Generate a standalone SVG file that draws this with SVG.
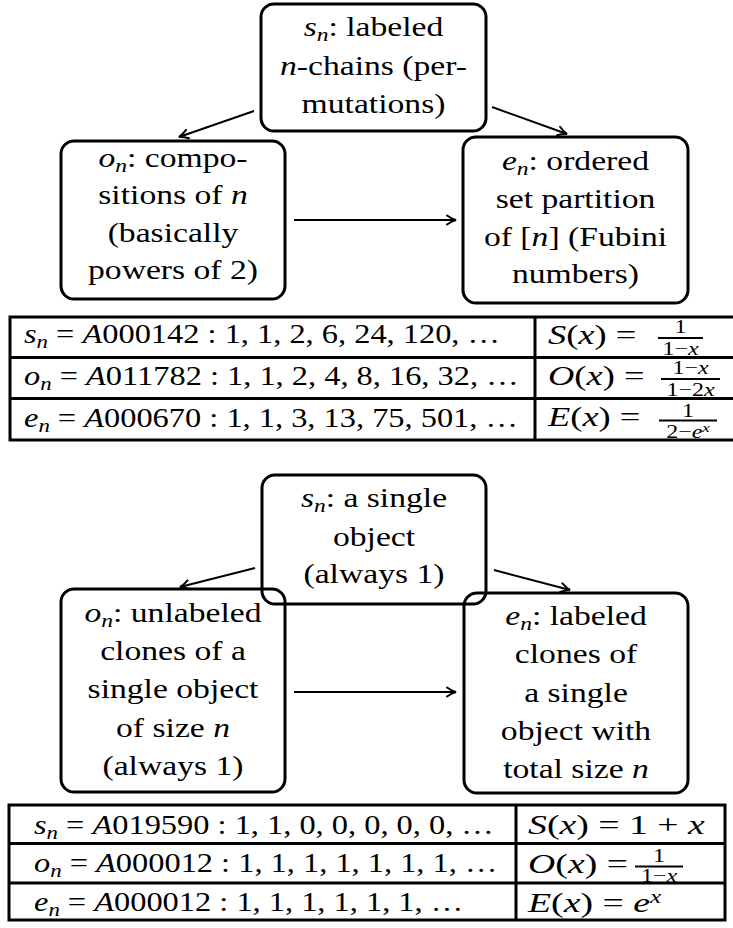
<svg xmlns="http://www.w3.org/2000/svg" width="733" height="928" viewBox="0 0 733 928">
<defs>
<style>
.t{font-family:"Liberation Serif","Times New Roman",serif;font-size:26.5px;fill:#000;text-anchor:middle}
.tl{font-family:"Liberation Serif","Times New Roman",serif;font-size:27px;fill:#000}
.fr{font-family:"Liberation Serif","Times New Roman",serif;font-size:18.5px;fill:#000;text-anchor:middle}
.m{font-style:italic}
.sb{font-size:18.5px;font-style:italic}
.sb2{font-size:19px;font-style:italic}
.box{fill:none;stroke:#000;stroke-width:3}
.grid{fill:none;stroke:#000;stroke-width:3}
.bar{stroke:#000;stroke-width:1.8}
.conn line{stroke:#000;stroke-width:2}
</style>
<marker id="ah" viewBox="-11 -6 13 12" refX="0" refY="0" markerWidth="13" markerHeight="12" markerUnits="userSpaceOnUse" orient="auto">
<path d="M-9,-4.5 Q-4,-1 0,0 Q-4,1 -9,4.5" fill="none" stroke="#000" stroke-width="2" stroke-linecap="round"/>
</marker>
</defs>
<rect width="733" height="928" fill="#fff"/>

<!-- top diagram -->
<g id="s1">
<rect class="box" x="261" y="4" width="225" height="127" rx="13"/>
<g transform="translate(373.5 0) scale(1.27 1)">
<text class="t" y="36"><tspan class="m">s</tspan><tspan class="sb" dy="5">n</tspan><tspan dy="-5">:  labeled</tspan></text>
<text class="t" y="75"><tspan class="m">n</tspan>-chains (per-</text>
<text class="t" y="113">mutations)</text>
</g>
</g>
<g id="o1">
<rect class="box" x="61" y="141" width="224" height="158" rx="13"/>
<g transform="translate(173 0) scale(1.27 1)">
<text class="t" y="167"><tspan class="m">o</tspan><tspan class="sb" dy="5">n</tspan><tspan dy="-5">: compo-</tspan></text>
<text class="t" y="204">sitions of <tspan class="m">n</tspan></text>
<text class="t" y="242">(basically</text>
<text class="t" y="279">powers of 2)</text>
</g>
</g>
<g id="e1">
<rect class="box" x="463" y="137" width="225" height="166" rx="13"/>
<g transform="translate(575.5 0) scale(1.27 1)">
<text class="t" y="170"><tspan class="m">e</tspan><tspan class="sb" dy="5">n</tspan><tspan dy="-5">: ordered</tspan></text>
<text class="t" y="208">set partition</text>
<text class="t" y="246">of [<tspan class="m">n</tspan>] (Fubini</text>
<text class="t" y="283">numbers)</text>
</g>
</g>

<!-- bottom diagram -->
<g id="s2">
<rect class="box" x="262" y="475" width="224" height="129" rx="13"/>
<g transform="translate(374 0) scale(1.27 1)">
<text class="t" y="507"><tspan class="m">s</tspan><tspan class="sb" dy="5">n</tspan><tspan dy="-5">:  a single</tspan></text>
<text class="t" y="546">object</text>
<text class="t" y="583">(always 1)</text>
</g>
</g>
<g id="o2">
<rect class="box" x="61" y="589" width="224" height="203" rx="13"/>
<g transform="translate(173 0) scale(1.27 1)">
<text class="t" y="622"><tspan class="m">o</tspan><tspan class="sb" dy="5">n</tspan><tspan dy="-5">:  unlabeled</tspan></text>
<text class="t" y="660">clones of a</text>
<text class="t" y="698">single object</text>
<text class="t" y="737">of size <tspan class="m">n</tspan></text>
<text class="t" y="775">(always 1)</text>
</g>
</g>
<g id="e2">
<rect class="box" x="464" y="593" width="224" height="200" rx="13"/>
<g transform="translate(576 0) scale(1.27 1)">
<text class="t" y="625"><tspan class="m">e</tspan><tspan class="sb" dy="5">n</tspan><tspan dy="-5">: labeled</tspan></text>
<text class="t" y="663">clones of</text>
<text class="t" y="702">a single</text>
<text class="t" y="740">object with</text>
<text class="t" y="778">total size <tspan class="m">n</tspan></text>
</g>
</g>

<g id="connectors" class="conn">
<line x1="254" y1="111" x2="179" y2="137" marker-end="url(#ah)"/>
<line x1="492" y1="107" x2="567" y2="134" marker-end="url(#ah)"/>
<line x1="294" y1="220" x2="456" y2="220" marker-end="url(#ah)"/>
<line x1="255" y1="568" x2="180" y2="587" marker-end="url(#ah)"/>
<line x1="494" y1="570" x2="570" y2="590" marker-end="url(#ah)"/>
<line x1="294" y1="692" x2="456" y2="692" marker-end="url(#ah)"/>
</g>

<!-- table 1 -->
<g id="table1">
<rect class="grid" x="10" y="317" width="740" height="123"/>
<line class="grid" x1="10" y1="357.5" x2="740" y2="357.5"/>
<line class="grid" x1="10" y1="398.5" x2="740" y2="398.5"/>
<line class="grid" x1="535" y1="317" x2="535" y2="440"/>
<text class="tl" transform="translate(24 343) scale(1.2 1)"><tspan class="m">s</tspan><tspan class="sb2" dy="5">n</tspan><tspan dy="-5"> = </tspan><tspan class="m">A</tspan>000142 : 1, 1, 2, 6, 24, 120, …</text>
<text class="tl" transform="translate(24 385) scale(1.2 1)"><tspan class="m">o</tspan><tspan class="sb2" dy="5">n</tspan><tspan dy="-5"> = </tspan><tspan class="m">A</tspan>011782 : 1, 1, 2, 4, 8, 16, 32, …</text>
<text class="tl" transform="translate(24 427) scale(1.2 1)"><tspan class="m">e</tspan><tspan class="sb2" dy="5">n</tspan><tspan dy="-5"> = </tspan><tspan class="m">A</tspan>000670 : 1, 1, 3, 13, 75, 501, …</text>
<text class="tl" transform="translate(548 344) scale(1.35 1)"><tspan class="m">S</tspan>(<tspan class="m">x</tspan>) =</text>
<text class="tl" transform="translate(548 385) scale(1.35 1)"><tspan class="m">O</tspan>(<tspan class="m">x</tspan>) =</text>
<text class="tl" transform="translate(548 426) scale(1.35 1)"><tspan class="m">E</tspan>(<tspan class="m">x</tspan>) =</text>
<line class="bar" x1="658" y1="338" x2="703" y2="338"/>
<text class="fr" transform="translate(680.5 333) scale(1.3 1)">1</text>
<text class="fr" transform="translate(680.5 355) scale(1.3 1)">1−<tspan class="m">x</tspan></text>
<line class="bar" x1="661" y1="379" x2="720" y2="379"/>
<text class="fr" transform="translate(690.5 374) scale(1.3 1)">1−<tspan class="m">x</tspan></text>
<text class="fr" transform="translate(690.5 396) scale(1.3 1)">1−2<tspan class="m">x</tspan></text>
<line class="bar" x1="659" y1="420.5" x2="717" y2="420.5"/>
<text class="fr" transform="translate(688 416.5) scale(1.3 1)">1</text>
<text class="fr" transform="translate(688 437.5) scale(1.3 1)">2−<tspan class="m">e</tspan><tspan class="m" font-size="13" dy="-6">x</tspan></text>
</g>

<!-- table 2 -->
<g id="table2">
<rect class="grid" x="9" y="805" width="716" height="115"/>
<line class="grid" x1="9" y1="843.5" x2="725" y2="843.5"/>
<line class="grid" x1="9" y1="883" x2="725" y2="883"/>
<line class="grid" x1="516" y1="805" x2="516" y2="920"/>
<text class="tl" transform="translate(34 834) scale(1.2 1)"><tspan class="m">s</tspan><tspan class="sb2" dy="5">n</tspan><tspan dy="-5"> = </tspan><tspan class="m">A</tspan>019590 : 1, 1, 0, 0, 0, 0, 0, …</text>
<text class="tl" transform="translate(34 872) scale(1.2 1)"><tspan class="m">o</tspan><tspan class="sb2" dy="5">n</tspan><tspan dy="-5"> = </tspan><tspan class="m">A</tspan>000012 : 1, 1, 1, 1, 1, 1, 1, …</text>
<text class="tl" transform="translate(34 911) scale(1.2 1)"><tspan class="m">e</tspan><tspan class="sb2" dy="5">n</tspan><tspan dy="-5"> = </tspan><tspan class="m">A</tspan>000012 : 1, 1, 1, 1, 1, 1, …</text>
<text class="tl" transform="translate(528 834) scale(1.4 1)"><tspan class="m">S</tspan>(<tspan class="m">x</tspan>) = 1 + <tspan class="m">x</tspan></text>
<text class="tl" transform="translate(528 873) scale(1.4 1)"><tspan class="m">O</tspan>(<tspan class="m">x</tspan>) =</text>
<line class="bar" x1="635" y1="866.5" x2="683" y2="866.5"/>
<text class="fr" transform="translate(659 862) scale(1.3 1)">1</text>
<text class="fr" transform="translate(659 882) scale(1.3 1)">1−<tspan class="m">x</tspan></text>
<text class="tl" transform="translate(528 912) scale(1.4 1)"><tspan class="m">E</tspan>(<tspan class="m">x</tspan>) = <tspan class="m">e</tspan><tspan class="m" font-size="18" dy="-9">x</tspan></text>
</g>
</svg>
